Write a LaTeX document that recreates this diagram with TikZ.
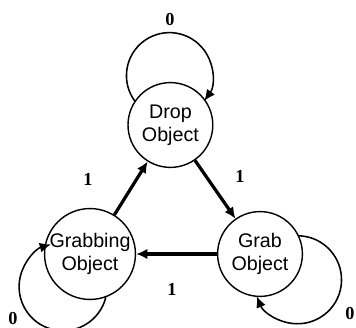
\documentclass[tikz,border=0pt]{standalone}
\usepackage{fontspec}
\setmainfont{Liberation Serif}
\newfontfamily\statefont{Liberation Sans}
\usetikzlibrary{arrows.meta}

\tikzset{
  state/.style={draw, circle, line width=1pt, minimum size=2.12cm, inner sep=0pt,
    align=center, font=\statefont\fontsize{14}{16.5}\selectfont},
  trans/.style={line width=2.3pt, -{Latex[length=8pt,width=7.5pt]}},
  selfloop/.style={line width=1.1pt, -{Latex[length=8pt,width=7pt]}},
  bit/.style={font=\bfseries\fontsize{13}{15}\selectfont}
}

\begin{document}
\begin{tikzpicture}
\useasboundingbox (0,0) rectangle (8.9,8.175);
\node[state] (drop) at (4.26,5.05) {Drop\\Object};
\node[state] (grabbing) at (2.25,1.825) {Grabbing\\Object};
\node[state] (grab) at (6.5,1.825) {Grab\\Object};
% transitions on 1
\draw[trans] (drop) -- (grab);
\draw[trans] (grab) -- (grabbing);
\draw[trans] (grabbing) -- (drop);
% self loops on 0
\draw[selfloop] (drop.146) arc[start angle=216, end angle=-36, radius=1.075];
\draw[selfloop] (grabbing.290) arc[start angle=-14, end angle=-254, radius=1.1];
\draw[selfloop] (grab.25) arc[start angle=88, end angle=-158, radius=1.1];
\node[bit] (b1) at (2.2,3.7) {1};
\node[bit] (b2) at (6.0,3.775) {1};
\node[bit] (b3) at (4.3,0.95) {1};
\node[bit] (z1) at (4.25,7.675) {0};
\node[bit] (z2) at (0.325,0.2) {0};
\node[bit] (z3) at (8.75,0.325) {0};
\end{tikzpicture}
\end{document}
